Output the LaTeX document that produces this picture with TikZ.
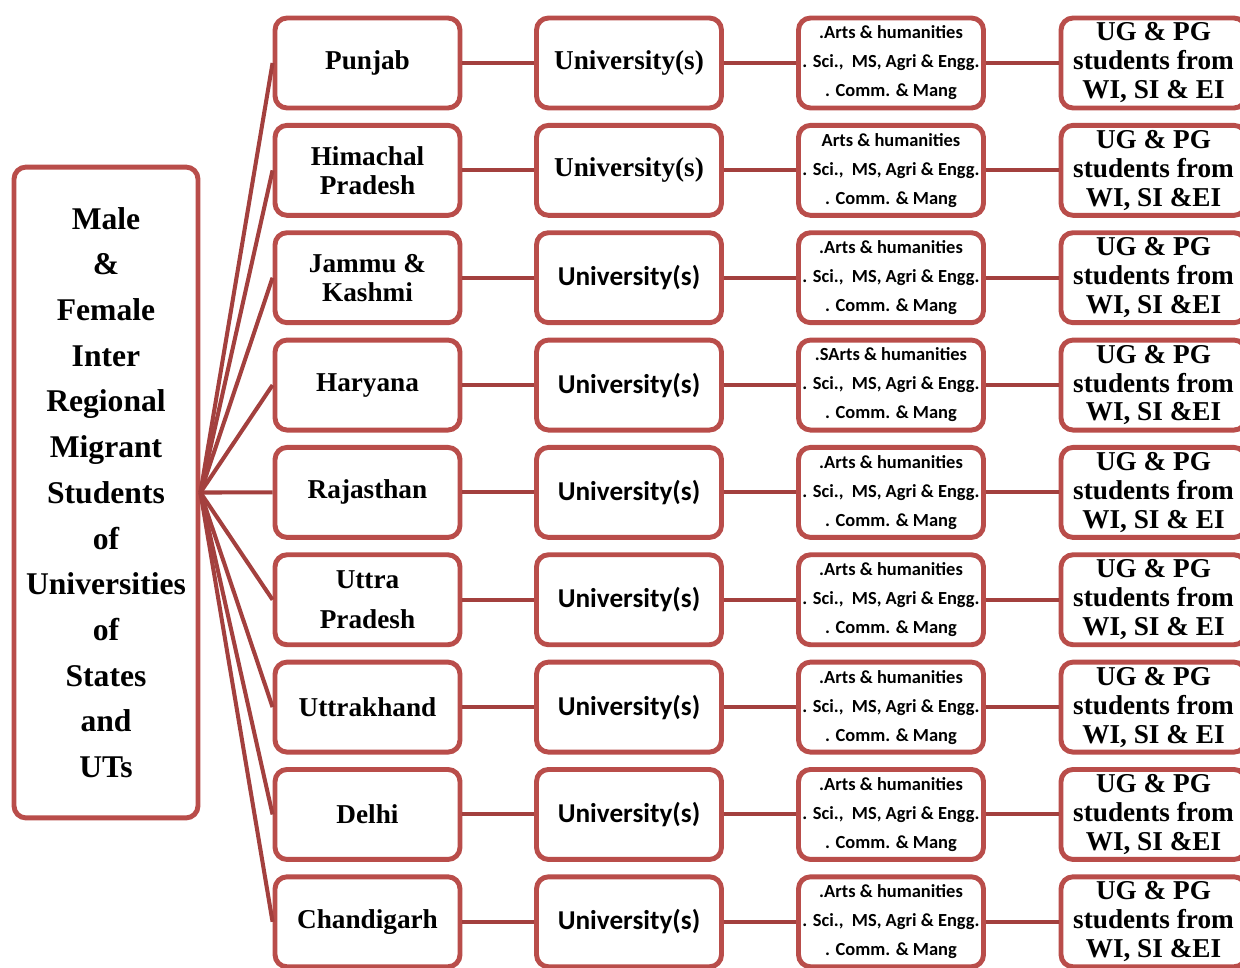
\documentclass[tikz,border=0pt]{standalone}
\usepackage{fontspec}
\setmainfont{Liberation Serif}
\newfontfamily\calfont{Carlito}
\definecolor{boxred}{RGB}{185,77,74}
\definecolor{linered}{RGB}{163,64,62}
\begin{document}
\begin{tikzpicture}[x=0.02cm,y=-0.02cm]
	\tikzstyle{box}=[rectangle,draw=boxred,line width=2.8pt,fill=white,rounded corners=0.24cm,minimum width=3.7cm,minimum height=1.8cm,inner sep=0pt,align=center]
	\tikzstyle{state}=[box,font=\bfseries\fontsize{15.5}{16.5}\selectfont]
	\tikzstyle{course}=[box,font=\calfont\bfseries\fontsize{10.5}{16.5}\selectfont]
	\tikzstyle{edge}=[draw=linered,line width=2.3pt]
	\useasboundingbox (0,0) rectangle (1240,967);
	\begin{scope}
		\node [box,minimum width=3.68cm,minimum height=13.02cm,font=\bfseries\fontsize{18}{26}\selectfont] (mig) at (106,492.5)
			{Male\\\&\\Female\\Inter\\Regional\\Migrant\\Students\\of\\Universities\\of\\States\\and\\UTs};
		\foreach \i/\st/\uf/\ar/\ei [evaluate=\i as \y using 63+107.35*(\i-1)] in {
			1/Punjab/{}/.Arts/{\& EI},
			2/{Himachal\\Pradesh}/{}/Arts/\&EI,
			3/{Jammu \&\\Kashmi}/\calfont/.Arts/\&EI,
			4/Haryana/\calfont/.SArts/\&EI,
			5/Rajasthan/\calfont/.Arts/{\& EI},
			6/{Uttra\\[6pt]Pradesh}/\calfont/.Arts/{\& EI},
			7/Uttrakhand/\calfont/.Arts/{\& EI},
			8/Delhi/\calfont/.Arts/\&EI,
			9/Chandigarh/\calfont/.Arts/\&EI}
		{
			\node [state] (st\i) at (367.5,\y) {\st};
			\node [state] (un\i) at (629,\y) {\uf University(s)};
			\node [course] (co\i) at (891,\y) {\ar\ \& humanities\\. Sci.,\ \ MS, Agri \& Engg.\\. Comm. \& Mang};
			\node [state] (ug\i) at (1153.5,\y) {UG \& PG\\students from\\WI, SI \ei};
			\path[edge] (mig.east) -- (st\i.west);
			\path[edge] (st\i) -- (un\i);
			\path[edge] (un\i) -- (co\i);
			\path[edge] (co\i) -- (ug\i);
		}
	\end{scope}
\end{tikzpicture}
\end{document}
